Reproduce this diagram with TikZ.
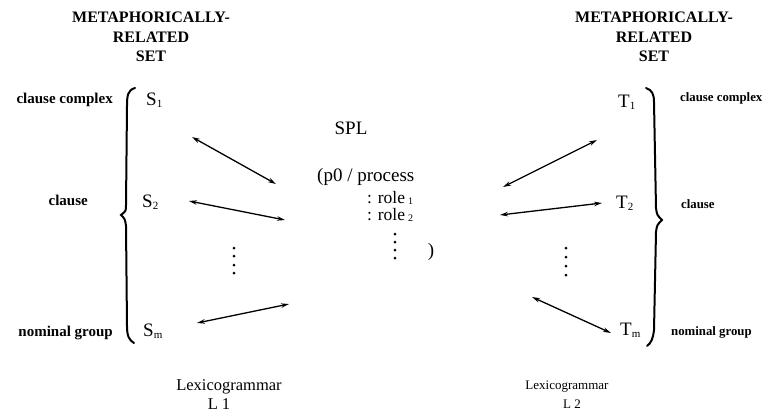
\documentclass[tikz,border=0pt]{standalone}
\usepackage{fontspec}
\setmainfont{Liberation Serif}
\usetikzlibrary{arrows.meta}
\newcommand\lowsub[1]{\raisebox{-0.12em}{\fontsize{11}{11}\selectfont #1}}
\newcommand\rolesub[1]{\raisebox{-0.05em}{\fontsize{10}{10}\selectfont #1}}
\begin{document}
\begin{tikzpicture}[x=1pt,y=-1pt,
  hdr/.style={font=\fontsize{16}{18}\selectfont\bfseries, inner sep=0pt},
  lbl/.style={font=\fontsize{15}{17}\selectfont\bfseries, inner sep=0pt},
  lblr/.style={font=\fontsize{12.8}{15}\selectfont\bfseries, inner sep=0pt},
  sym/.style={font=\fontsize{19}{21}\selectfont, inner sep=0pt},
  lexl/.style={font=\fontsize{16.5}{18}\selectfont, inner sep=0pt},
  lexr/.style={font=\fontsize{13}{15}\selectfont, inner sep=0pt},
  link/.style={{Stealth[length=8pt,width=4.5pt]}-{Stealth[length=8pt,width=4.5pt]}, line width=1.3pt},
  bracestyle/.style={line width=2pt, line cap=round},
  dotstyle/.style={fill=black}]
\useasboundingbox (0,0) rectangle (771,416);

% headers
\node[hdr] (lh1) at (151,17) {METAPHORICALLY-};
\node[hdr] (lh2) at (151,37) {RELATED};
\node[hdr] (lh3) at (151,56) {SET};
\node[hdr] (rh1) at (654,17) {METAPHORICALLY-};
\node[hdr] (rh2) at (654,37) {RELATED};
\node[hdr] (rh3) at (654,56) {SET};

% left labels
\node[lbl, anchor=east] (lcc) at (113,100) {clause complex};
\node[lbl, anchor=east] (lcl) at (88,200) {clause};
\node[lbl, anchor=east] (lng) at (113,333) {nominal group};

% right labels
\node[lblr, anchor=west] (rcc) at (680,98) {clause complex};
\node[lblr, anchor=west] (rcl) at (681,204) {clause};
\node[lblr, anchor=west] (rng) at (671,332) {nominal group};

% S and T nodes
\node[sym, anchor=west] (s1) at (146,100) {S\lowsub{1}};
\node[sym, anchor=west] (s2) at (142,202) {S\lowsub{2}};
\node[sym, anchor=west] (sm) at (143,331) {S\lowsub{m}};
\node[sym, anchor=west] (t1) at (618,102) {T\lowsub{1}};
\node[sym, anchor=west] (t2) at (616,203) {T\lowsub{2}};
\node[sym, anchor=west] (tm) at (620,330) {T\lowsub{m}};

% SPL block
\node[sym] (spl) at (351,128) {SPL};
\node[sym, anchor=west] (p0) at (317,177) {(p0 / process};
\node[anchor=north west, align=left, inner sep=0pt, font=\fontsize{17.5}{17}\selectfont] (roles) at (367,191)
  {: role\,\rolesub{1}\\: role\,\rolesub{2}};
\node[sym] (rp) at (431,252) {)};

% dots
\foreach \yy in {234,242,250,258} \fill[dotstyle] (395,\yy) circle (1.5);
\foreach \yy in {248,256,265,273} \fill[dotstyle] (234,\yy) circle (1.5);
\foreach \yy in {248,257,266,275} \fill[dotstyle] (566,\yy) circle (1.5);

% braces
\draw[bracestyle] (135,88) .. controls (128,90) and (127,95) .. (127,106) -- (126,205)
  .. controls (126,211) .. (121,215) .. controls (125,219) .. (126,226) -- (127,326)
  .. controls (127,336) and (129,340) .. (134,343);
\draw[bracestyle] (646,88) .. controls (652,90) and (654,94) .. (654,102) -- (656,208)
  .. controls (657,215) .. (662,220) .. controls (657,225) .. (656,232) -- (654,330)
  .. controls (653,339) and (651,343) .. (647,346);

% arrow endpoints
\coordinate (a1s) at (192,137); \coordinate (a1e) at (276,184);
\coordinate (a2s) at (189,201); \coordinate (a2e) at (285,220);
\coordinate (a3s) at (197,323); \coordinate (a3e) at (289,304);
\coordinate (b1s) at (597,140); \coordinate (b1e) at (503,187);
\coordinate (b2s) at (602,203); \coordinate (b2e) at (500,215);
\coordinate (b3s) at (532,297); \coordinate (b3e) at (611,333);
\draw[link] (a1s) -- (a1e);
\draw[link] (a2s) -- (a2e);
\draw[link] (a3s) -- (a3e);
\draw[link] (b1s) -- (b1e);
\draw[link] (b2s) -- (b2e);
\draw[link] (b3s) -- (b3e);

% bottom
\node[lexl] (lx1) at (229,387) {Lexicogrammar};
\node[lexl] (l1) at (219,404) {L 1};
\node[lexr] (lx2) at (567,387) {Lexicogrammar};
\node[lexr] (l2) at (572,404) {L 2};
\end{tikzpicture}
\end{document}
